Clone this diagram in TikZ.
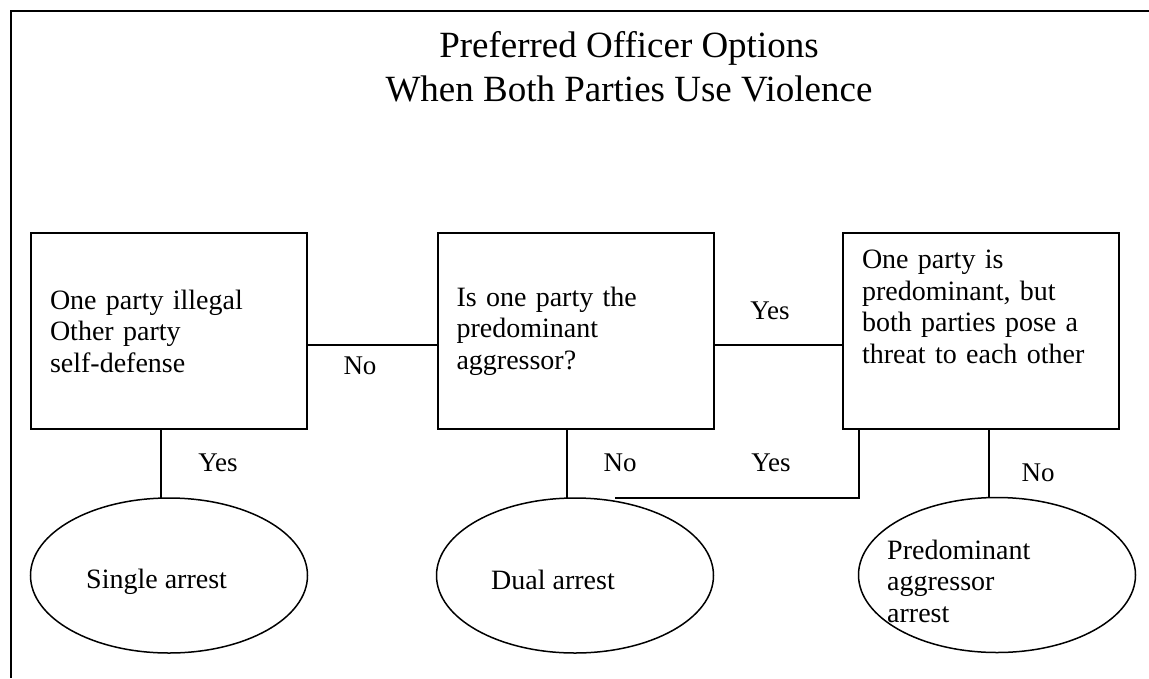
\documentclass[tikz,border=0pt]{standalone}
\usepackage{fontspec}
\setmainfont{Liberation Serif}
\usetikzlibrary{shapes.geometric}
\begin{document}
\begin{tikzpicture}[x=1pt,y=-1pt,
  box/.style={draw,line width=2pt,minimum width=276pt,minimum height=196pt,outer sep=0pt,inner sep=0pt,
    font=\fontsize{28}{31.5}\selectfont,align=left,text width=238pt},
  oval/.style={draw,ellipse,line width=1.5pt,minimum width=277pt,minimum height=155pt,inner sep=0pt,outer sep=0pt},
  txt/.style={font=\fontsize{28}{31.5}\selectfont,align=left,inner sep=0pt},
  conn/.style={line width=2pt},
  lbl/.style={font=\fontsize{27}{31}\selectfont,inner sep=0pt},
  ttl/.style={font=\fontsize{37}{44}\selectfont,align=center,inner sep=0pt}]
\useasboundingbox (0,0) rectangle (1149,678);
\draw[line width=2pt] (1149,11) -- (11,11) -- (11,678);
\node[ttl] (title) at (629,67) {Preferred Officer Options\\When Both Parties Use Violence};

\node[box] (L) at (169,331) {One party illegal\\Other party\\self-defense};
\node[box] (M) at (575.5,331) {Is one party the\\predominant\\aggressor?};
\node[box] (R) at (981,331) {\parbox[c][162pt][t]{238pt}{\raggedright One party is\\predominant, but\\both parties pose a\\threat to each other}};

\node[oval] (S) at (169,575.5) {};
\node[oval] (D) at (575,575.5) {};
\node[oval] (P) at (997,575) {};
\node[txt,anchor=west] (St) at (86,582) {Single arrest};
\node[txt,anchor=west] (Dt) at (491,580) {Dual arrest};
\node[txt,anchor=west] (Pt) at (887,581) {Predominant\\aggressor\\arrest};

\coordinate (hy) at (0,345);
\coordinate (xa) at (161,0);
\coordinate (xb) at (567,0);
\coordinate (xc) at (859,0);
\coordinate (xd) at (989,0);
\coordinate (dend) at (615,498);
\draw[conn] (L.east |- hy) -- (M.west |- hy);
\draw[conn] (M.east |- hy) -- (R.west |- hy);
\draw[conn] (L.south -| xa) -- (S.north -| xa);
\draw[conn] (M.south -| xb) -- (D.north -| xb);
\draw[conn] (R.south -| xc) |- (dend);
\draw[conn] (R.south -| xd) -- (P.north -| xd);

\node[lbl] (l1) at (360,366) {No};
\node[lbl] (l2) at (770,311) {Yes};
\node[lbl] (l3) at (218,463) {Yes};
\node[lbl] (l4) at (620,463) {No};
\node[lbl] (l5) at (771,463) {Yes};
\node[lbl] (l6) at (1038,473) {No};
\end{tikzpicture}
\end{document}
